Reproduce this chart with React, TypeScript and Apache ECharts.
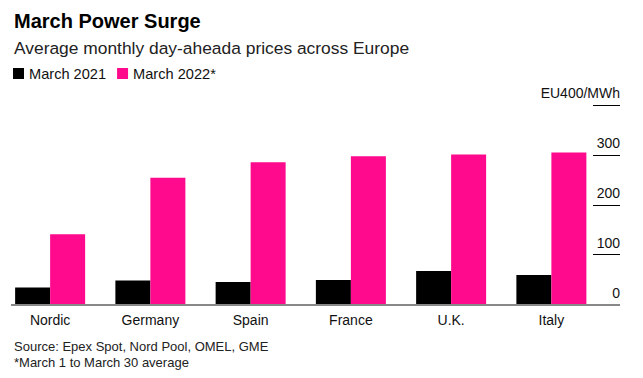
import React, { useEffect, useRef } from "react";
import * as echarts from "echarts";

const categories = ["Nordic", "Germany", "Spain", "France", "U.K.", "Italy"];
const march2021 = [34, 48, 45, 49, 67, 59];
const march2022 = [141, 254, 285, 297, 301, 305];
const yTicks = [0, 100, 200, 300, 400];
const unitLabel = "EU400/MWh";

const FONT = "'Liberation Sans', Arial, sans-serif";
const PINK = "#ff0a8c";

export default function App() {
  const ref = useRef<HTMLDivElement>(null);
  useEffect(() => {
    if (!ref.current) return;
    const chart = echarts.init(ref.current, undefined, { renderer: "svg" });
    const top = 105;
    const height = 199.5;
    chart.setOption({
      animation: false,
      backgroundColor: "#ffffff",
      textStyle: { fontFamily: FONT },
      title: [
        {
          text: "March Power Surge",
          left: 9,
          top: 6,
          textStyle: { fontSize: 20, fontWeight: "bold", color: "#000", fontFamily: FONT },
        },
        {
          text: "Average monthly day-aheada prices across Europe",
          left: 9,
          top: 34,
          textStyle: { fontSize: 17.4, fontWeight: "normal", color: "#222", fontFamily: FONT },
        },
        {
          text: "Source: Epex Spot, Nord Pool, OMEL, GME\n*March 1 to March 30 average",
          left: 9,
          top: 334,
          textStyle: { fontSize: 13, lineHeight: 15.5, fontWeight: "normal", color: "#222", fontFamily: FONT },
        },
      ],
      legend: {
        left: 8,
        top: 61,
        itemWidth: 11,
        itemHeight: 11,
        itemGap: 11,
        icon: "rect",
        textStyle: { fontSize: 14.6, color: "#111", fontFamily: FONT },
        data: ["March 2021", "March 2022*"],
      },
      grid: [
        { left: -4.5, width: 606, top, height },
        { left: 593, width: 27, top, height },
      ],
      xAxis: [
        {
          gridIndex: 0,
          type: "category",
          data: categories,
          axisLine: { show: false },
          axisTick: { show: false },
          axisLabel: { fontSize: 14, color: "#111", margin: 8, fontFamily: FONT },
        },
        { gridIndex: 1, type: "value", show: false, min: 0, max: 1 },
      ],
      yAxis: [
        { gridIndex: 0, type: "value", min: 0, max: 400, show: false },
        {
          gridIndex: 1,
          type: "value",
          position: "right",
          min: yTicks[0],
          max: yTicks[yTicks.length - 1],
          interval: 100,
          axisLine: { show: false },
          axisTick: { show: false },
          splitLine: { show: true, showMinLine: false, lineStyle: { color: "#000", width: 1 } },
          axisLabel: {
            inside: true,
            margin: 0,
            fontSize: 14,
            color: "#111",
            fontFamily: FONT,
            verticalAlign: "bottom",
            padding: [0, 0, 5, 0],
            formatter: (v: number) => (v === 400 ? unitLabel : String(v)),
          },
        },
      ],
      series: [
        {
          name: "March 2021",
          type: "bar",
          xAxisIndex: 0,
          yAxisIndex: 0,
          data: march2021,
          barWidth: 35,
          barGap: "0%",
          itemStyle: { color: "#000" },
        },
        {
          name: "March 2022*",
          type: "bar",
          xAxisIndex: 0,
          yAxisIndex: 0,
          data: march2022,
          barWidth: 35,
          barGap: "0%",
          itemStyle: { color: PINK },
        },
      ],
      graphic: [
        {
          type: "line",
          z: 10,
          shape: { x1: 11, y1: 305, x2: 620, y2: 305 },
          style: { stroke: "#888", lineWidth: 2 },
        },
      ],
    });
    return () => chart.dispose();
  }, []);
  return (
    <div
      ref={ref}
      style={{ position: "absolute", left: 0, top: 0, width: 643, height: 378 }}
    />
  );
}
